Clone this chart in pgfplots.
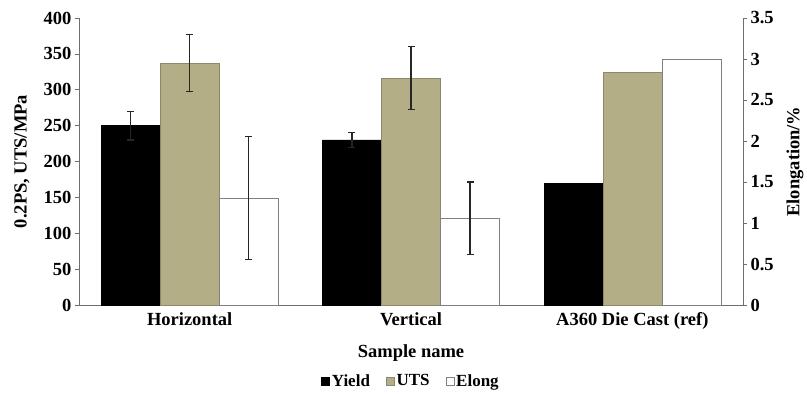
\documentclass[border=0pt]{standalone}
\usepackage{fontspec}
\setmainfont{Liberation Serif}
\usepackage{pgfplots}
\pgfplotsset{compat=1.18}
\definecolor{uts}{RGB}{180,174,134}
\definecolor{utsedge}{RGB}{140,136,110}
\definecolor{axgray}{RGB}{110,110,110}
\newcommand{\lf}{\fontsize{18.5}{20}\selectfont\bfseries}
\begin{document}
\begin{tikzpicture}
\path[use as bounding box] (-79pt,-89pt) rectangle (728pt,305pt);
\pgfplotsset{
 common/.style={
  scale only axis, width=664pt, height=287pt,
  xmin=-0.5, xmax=2.5,
  ymin=0,
  bar width=0.2667,
  xtick={0,1,2},
  /pgf/number format/assume math mode=true,
  tick label style={font=\lf},
  tick align=outside,
  major tick length=4pt,
  axis line style={-, axgray, line width=0.9pt},
  tick style={axgray, line width=0.7pt},
  error bars/y dir=both, error bars/y explicit,
  error bars/error mark options={rotate=90, mark size=3.5pt, line width=1.1pt, black!85},
  error bars/error bar style={line width=1.1pt, black!85},
 },
 sq legend/.style={legend image code/.code={\draw[##1, line width=0.6pt] (0pt,-4pt) rectangle (8pt,4pt);}},
}
\begin{axis}[common,
  axis y line*=left, axis x line*=bottom,
  ymax=400, ytick={0,50,100,150,200,250,300,350,400},
  xticklabels={Horizontal, Vertical, A360 Die Cast (ref)},
  x tick style={draw=none},
  xlabel={Sample name},
  ylabel={0.2PS, UTS/MPa},
  every axis x label/.style={at={(axis description cs:0.5,0)}, anchor=center, yshift=-48pt, font=\lf},
  every axis y label/.style={at={(axis description cs:0,0.5)}, anchor=center, xshift=-57pt, rotate=90, font=\lf},
]
% Yield bars placed at shifted positions (group centre - 0.2667)
\addplot[ybar, bar shift=0, fill=black, draw=black] coordinates {(-0.2667,250) +- (0,20) (0.7333,230) +- (0,10)};
\addplot[ybar, bar shift=0, fill=black, draw=black] coordinates {(1.7333,170)};
% UTS bars at group centres
\addplot[ybar, bar shift=0, fill=uts, draw=utsedge] coordinates {(0,337) +- (0,40) (1,316) +- (0,44)};
\addplot[ybar, bar shift=0, fill=uts, draw=utsedge] coordinates {(2,325)};
\end{axis}
\begin{axis}[common,
  axis y line*=right, axis x line=none,
  ymax=3.5, ytick={0,0.5,1,1.5,2,2.5,3,3.5},
  xtick=\empty,
  ylabel={Elongation/\%},
  every axis y label/.style={at={(axis description cs:1,0.5)}, anchor=center, xshift=52pt, rotate=90, font=\lf},
  legend columns=3,
  legend style={draw=none, fill=none, at={(axis description cs:0.5,0)}, anchor=center, yshift=-76pt,
    font=\fontsize{17}{19}\selectfont\bfseries,
    /tikz/every even column/.append style={column sep=14pt}},
  sq legend,
]
\addlegendimage{sq legend, fill=black, draw=black}
\addlegendentry{Yield}
\addlegendimage{sq legend, fill=uts, draw=utsedge}
\addlegendentry{UTS}
% Elong bars at group centre + 0.2667
\addplot[ybar, bar shift=0, fill=white, draw=gray, sq legend] coordinates {(0.2667,1.3) +- (0,0.75) (1.2667,1.06) +- (0,0.44)};
\addlegendentry{Elong}
\addplot[ybar, bar shift=0, fill=white, draw=gray, forget plot] coordinates {(2.2667,3.0)};
\end{axis}
\end{tikzpicture}
\end{document}
